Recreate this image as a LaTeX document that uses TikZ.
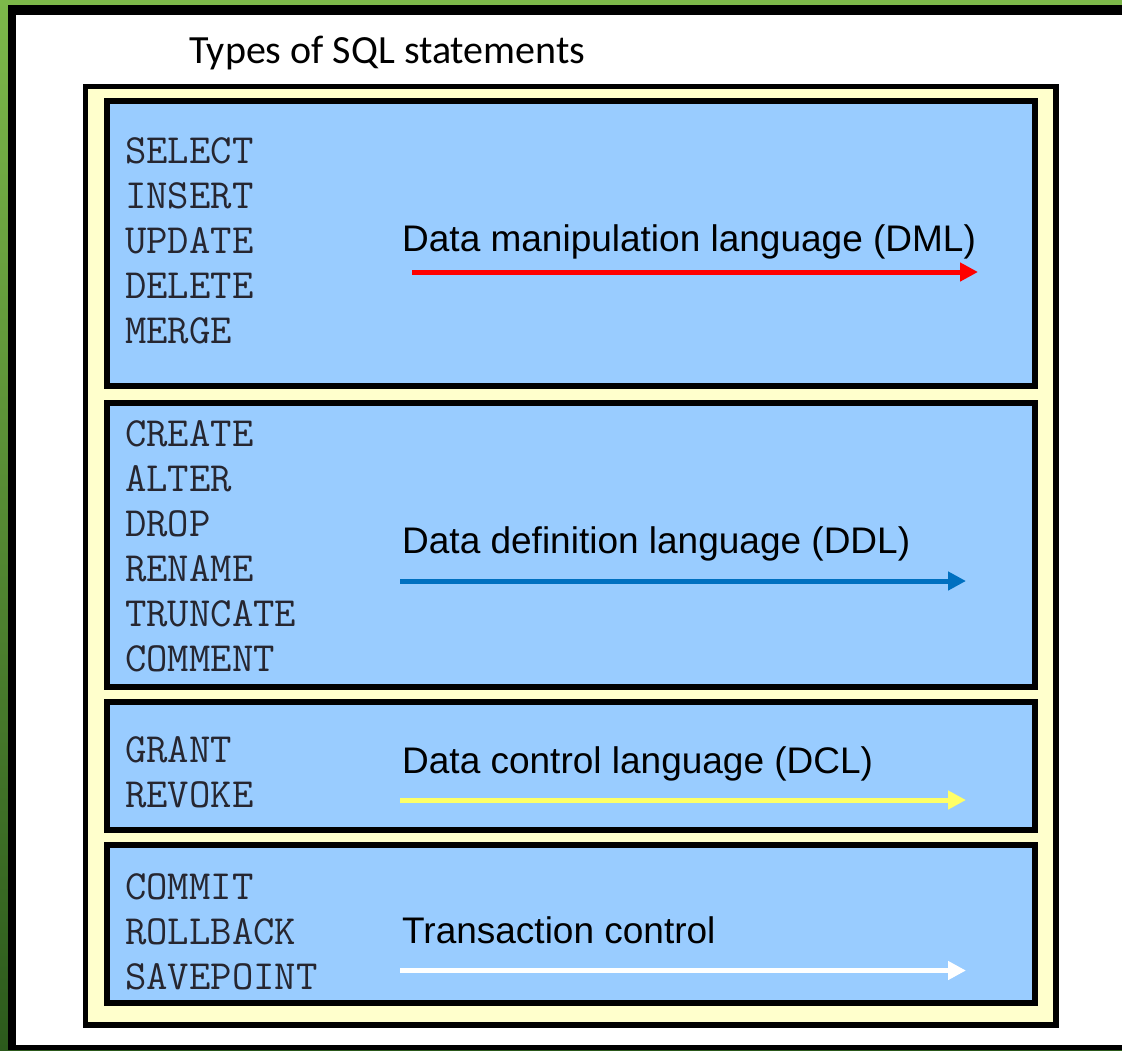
\documentclass[tikz,border=0pt]{standalone}
\usepackage{fontspec}
\usepackage{tikz}
\usetikzlibrary{arrows.meta}

\newfontfamily\titlefont{Carlito}
\newfontfamily\labelfont{Liberation Sans}

\definecolor{slideTop}{HTML}{7DB84A}
\definecolor{slideBottom}{HTML}{2C5A1C}
\definecolor{outerYellow}{HTML}{FFFFCC}
\definecolor{boxBlue}{HTML}{99CCFF}
\definecolor{dmlRed}{HTML}{FF0000}
\definecolor{ddlBlue}{HTML}{0070C0}
\definecolor{dclYellow}{HTML}{FFFF66}
\definecolor{textDark}{HTML}{262630}

\tikzset{
  group/.style={draw=black, line width=5.5pt, fill=boxBlue},
  cmds/.style={anchor=north west, inner sep=0pt, align=left, text=textDark,
    font=\ttfamily\fontsize{41.5}{45}\selectfont},
  lang/.style={anchor=base west, inner sep=0pt,
    font=\labelfont\fontsize{37}{40}\selectfont},
  langarrow/.style={line width=5pt, -{Triangle[length=18pt,width=18pt]}}
}

\begin{document}
\begin{tikzpicture}[x=1pt,y=-1pt]

			\useasboundingbox (0,0) rectangle (1122,1050);
			\shade [top color=slideTop, bottom color=slideBottom] (0,0) rectangle (1122,1050);
			\fill [black] (8,5) rectangle (1122,1050);
			\fill [white] (16,15) rectangle (1122,1045);

			\node [anchor=base west, inner sep=0pt, font=\titlefont\fontsize{40}{44}\selectfont] (title) at (189,63) {Types of SQL statements};

			\draw [line width=5.5pt, fill=outerYellow] (85.5,86.5) rectangle (1056,1025);
			\draw [group] (107,101) rectangle (1035,386);
			\draw [group] (107,403) rectangle (1035,687);
			\draw [group] (107,702) rectangle (1035,830);
			\draw [group] (107,845) rectangle (1035,1003);

			\node [cmds] (dmlcmds) at (125,137) {SELECT\\INSERT\\UPDATE\\DELETE\\MERGE};
			\node [cmds] (ddlcmds) at (125,420.5) {CREATE\\ALTER\\DROP\\RENAME\\TRUNCATE\\COMMENT};
			\node [cmds] (dclcmds) at (125,736.5) {GRANT\\REVOKE};
			\node [cmds] (tclcmds) at (125,873.5) {COMMIT\\ROLLBACK\\SAVEPOINT};

			\node [lang] (dml) at (402,251) {Data manipulation language (DML)};
			\node [lang] (ddl) at (402,553) {Data definition language (DDL)};
			\node [lang] (dcl) at (402,773) {Data control language (DCL)};
			\node [lang] (tcl) at (402,943) {Transaction control};

			\coordinate (dmlS) at (412,272);
			\coordinate (dmlE) at (978,272);
			\draw [langarrow, dmlRed] (dmlS)--(dmlE);

			\coordinate (ddlS) at (400,581);
			\coordinate (ddlE) at (966,581);
			\draw [langarrow, ddlBlue] (ddlS)--(ddlE);

			\coordinate (dclS) at (400,800);
			\coordinate (dclE) at (966,800);
			\draw [langarrow, dclYellow] (dclS)--(dclE);

			\coordinate (tclS) at (400,970.5);
			\coordinate (tclE) at (966,970.5);
			\draw [langarrow, white] (tclS)--(tclE);
		\end{tikzpicture}
\end{document}
